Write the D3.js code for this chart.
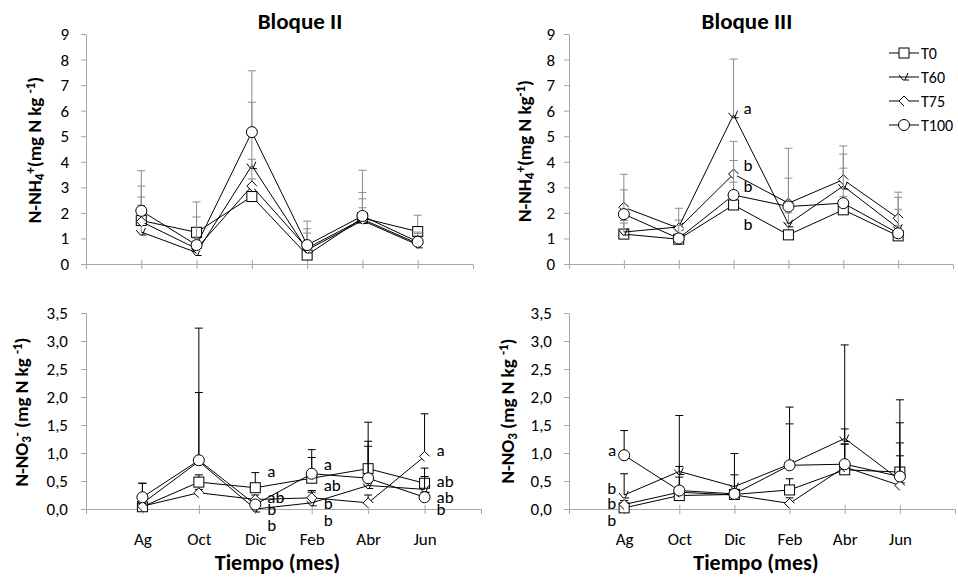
<!DOCTYPE html>
<html lang="es">
<head>
  <meta charset="UTF-8">
  <title>N-NH4+ y N-NO3- por bloque</title>
  <style>
    body { margin: 0; background: #fff; }
    svg { display: block; font-family: Carlito, Calibri, Lato, sans-serif; }
    .axis path, .axis line { stroke: #a6a6a6; }
    .axis text { fill: #000; font-size: 17px; font-family: Carlito, Calibri, Lato, sans-serif; }
  </style>
</head>
<body>
  <svg id="chart" width="958" height="578"></svg>

  <script src="https://cdnjs.cloudflare.com/ajax/libs/d3/7.8.5/d3.min.js"></script>
  <script>
    const months = ["Ag", "Oct", "Dic", "Feb", "Abr", "Jun"];
    const seriesNames = ["T0", "T60", "T75", "T100"];

    // rows follow seriesNames order: T0, T60, T75, T100
    // Bloque II, N-NH4+
    const nh4B2Mean = [
      [1.70, 1.24, 2.64, 0.35, 1.80, 1.27],
      [1.25, 0.45, 3.85, 0.55, 1.70, 0.75],
      [1.66, 0.60, 3.05, 0.62, 1.75, 0.80],
      [2.08, 0.74, 5.16, 0.74, 1.88, 0.87]
    ];
    const nh4B2Upper = [
      [3.05, 2.43, 3.33, 0.90, 2.20, 1.91],
      [2.30, 0.90, 6.33, 1.21, 2.55, 1.10],
      [2.62, 1.00, 4.10, 1.38, 2.80, 1.20],
      [3.65, 1.84, 7.56, 1.68, 3.67, 1.25]
    ];

    // Bloque III, N-NH4+
    const nh4B3Mean = [
      [1.17, 0.97, 2.31, 1.14, 2.12, 1.10],
      [1.25, 1.45, 5.84, 1.57, 3.05, 1.40],
      [2.22, 1.40, 3.52, 2.38, 3.30, 1.79],
      [1.95, 1.00, 2.70, 2.25, 2.38, 1.20]
    ];
    const nh4B3Upper = [
      [1.60, 1.30, 3.20, 1.60, 2.65, 1.50],
      [1.70, 1.72, 8.02, 2.00, 4.30, 2.14],
      [3.51, 2.18, 4.80, 4.53, 4.62, 2.81],
      [2.90, 1.50, 4.05, 3.36, 3.75, 2.61]
    ];

    // Bloque II, N-NO3-
    const no3B2Mean = [
      [0.04, 0.48, 0.38, 0.55, 0.72, 0.46],
      [0.10, 0.85, 0.00, 0.11, 0.42, 0.35],
      [0.05, 0.29, 0.17, 0.20, 0.11, 0.94],
      [0.21, 0.87, 0.08, 0.63, 0.55, 0.21]
    ];
    const no3B2Upper = [
      [0.46, 0.61, 0.65, 0.92, 1.21, 0.73],
      [0.15, 2.08, 0.05, 0.33, 1.12, 0.58],
      [0.10, 0.35, 0.25, 0.30, 0.25, 1.70],
      [0.46, 3.23, 0.15, 1.06, 1.55, 0.30]
    ];

    // Bloque III, N-NO3
    const no3B3Mean = [
      [0.02, 0.24, 0.26, 0.34, 0.70, 0.66],
      [0.25, 0.67, 0.40, 0.80, 1.26, 0.52],
      [0.08, 0.30, 0.25, 0.10, 0.75, 0.42],
      [0.96, 0.33, 0.27, 0.78, 0.80, 0.58]
    ];
    const no3B3Upper = [
      [0.10, 0.57, 0.61, 0.54, 1.16, 1.18],
      [0.63, 1.67, 0.99, 1.52, 2.93, 0.95],
      [0.15, 0.40, 0.35, 0.20, 1.16, 1.54],
      [1.40, 0.76, 0.35, 1.82, 1.43, 1.95]
    ];

    // significance letters: month, level (data units), letter
    const lettersNh4B3 = [
      ["Dic", 6.10, "a"], ["Dic", 3.87, "b"], ["Dic", 3.05, "b"], ["Dic", 1.57, "b"]
    ];
    const lettersNo3B2 = [
      ["Dic", 0.67, "a"], ["Dic", 0.22, "ab"], ["Dic", 0.00, "b"], ["Dic", -0.28, "b"],
      ["Feb", 0.81, "a"], ["Feb", 0.42, "ab"], ["Feb", 0.11, "b"], ["Feb", -0.19, "b"],
      ["Jun", 1.06, "a"], ["Jun", 0.50, "ab"], ["Jun", 0.22, "ab"], ["Jun", 0.00, "b"]
    ];
    const lettersNo3B3 = [
      ["Ag", 1.06, "a"], ["Ag", 0.38, "b"], ["Ag", 0.11, "b"], ["Ag", -0.19, "b"]
    ];

    const svg = d3.select("#chart");
    const FONT = "Carlito, Calibri, Lato, sans-serif";

    const commaFmt = d => d3.format(".1f")(d).replace(".", ",");

    // marker drawing per series
    function drawMarker(g, idx, cx, cy) {
      if (idx === 0) {
        g.append("rect").attr("x", cx - 5).attr("y", cy - 5)
          .attr("width", 10).attr("height", 10)
          .attr("fill", "#fff").attr("stroke", "#000");
      } else if (idx === 1) {
        g.append("path")
          .attr("d", `M${cx - 5},${cy - 2} L${cx - 1},${cy + 3} L${cx + 5},${cy + 3} M${cx + 1},${cy + 3} L${cx + 4},${cy - 4}`)
          .attr("fill", "none").attr("stroke", "#000");
      } else if (idx === 2) {
        g.append("path")
          .attr("d", `M${cx + 5},${cy} L${cx},${cy - 5} L${cx - 5},${cy} L${cx},${cy + 5}`)
          .attr("fill", "#fff").attr("stroke", "#000");
      } else {
        g.append("circle").attr("cx", cx).attr("cy", cy).attr("r", 5.5)
          .attr("fill", "#fff").attr("stroke", "#000");
      }
    }

    function drawPanel(p) {
      const x = d3.scalePoint().domain(months).range([p.x0, p.x1]).padding(1);
      const y = d3.scaleLinear().domain([0, p.max]).range([p.yBot, p.yTop]);
      const g = svg.append("g");

      // y axis
      g.append("g").attr("class", "axis")
        .attr("transform", `translate(${p.x0},0)`)
        .call(d3.axisLeft(y)
          .tickValues(d3.range(0, p.max + 1e-6, p.step))
          .tickFormat(p.fmt)
          .tickSizeInner(5).tickSizeOuter(0).tickPadding(p.yPad));

      // x axis
      const xa = g.append("g").attr("class", "axis")
        .attr("transform", `translate(0,${y(0)})`)
        .call(d3.axisBottom(x)
          .tickSizeInner(5).tickSizeOuter(5).tickPadding(19)
          .tickFormat(p.showMonths ? (d => d) : () => ""));
      xa.selectAll(".tick line").attr("y1", -4);

      // error bars, lines and markers
      p.mean.forEach((vals, si) => {
        const sg = g.append("g");
        vals.forEach((v, mi) => {
          const cx = x(months[mi]);
          const top = y(p.upper[si][mi]);
          sg.append("line").attr("x1", cx).attr("x2", cx)
            .attr("y1", y(v)).attr("y2", top)
            .attr("stroke", p.errColor).attr("stroke-width", 1);
          sg.append("line").attr("x1", cx - 4).attr("x2", cx + 4)
            .attr("y1", top).attr("y2", top)
            .attr("stroke", p.errColor).attr("stroke-width", 1);
        });
        sg.append("path")
          .datum(vals)
          .attr("fill", "none").attr("stroke", "#000").attr("stroke-width", 1)
          .attr("d", d3.line().x((d, i) => x(months[i])).y(d => y(d)));
        vals.forEach((v, mi) => drawMarker(sg, si, x(months[mi]), y(v)));
      });

      // significance letters
      (p.letters || []).forEach(([m, lv, t]) => {
        g.append("text")
          .attr("x", x(m) + p.letterDx).attr("y", y(lv))
          .attr("dy", "0.35em")
          .attr("text-anchor", p.letterDx < 0 ? "end" : "start")
          .attr("font-size", 17).attr("font-family", FONT)
          .text(t);
      });

      // title
      if (p.title) {
        g.append("text")
          .attr("x", p.titleX).attr("y", 29)
          .attr("text-anchor", "middle")
          .attr("font-size", 23).attr("font-weight", "bold")
          .attr("font-family", FONT)
          .text(p.title);
      }

      // y label with sub/superscripts
      const yl = g.append("text")
        .attr("transform", `translate(${p.ylX},${p.ylY}) rotate(-90)`)
        .attr("text-anchor", "middle")
        .attr("font-size", 19).attr("font-weight", "bold")
        .attr("font-family", FONT);
      p.ylabel.forEach(([t, kind]) => {
        const ts = yl.append("tspan").text(t);
        if (kind === "sub") ts.attr("baseline-shift", "-25%").attr("font-size", 13);
        if (kind === "sup") ts.attr("baseline-shift", "45%").attr("font-size", 13);
      });

      // x title
      if (p.showMonths) {
        g.append("text")
          .attr("x", (p.x0 + p.x1) / 2 - 6).attr("y", 570)
          .attr("text-anchor", "middle")
          .attr("font-size", 22).attr("font-weight", "bold")
          .attr("font-family", FONT)
          .text("Tiempo (mes)");
      }
      return { x, y };
    }

    drawPanel({
      x0: 86, x1: 473, yTop: 34, yBot: 264, max: 9, step: 1, fmt: d3.format("d"), yPad: 12,
      mean: nh4B2Mean, upper: nh4B2Upper, errColor: "#8c8c8c",
      title: "Bloque II", titleX: 300,
      ylX: 41, ylY: 150,
      ylabel: [["N-NH"], ["4", "sub"], ["+", "sup"], ["(mg N kg "], ["-1", "sup"], [")"]]
    });

    drawPanel({
      x0: 569, x1: 953, yTop: 34, yBot: 264, max: 9, step: 1, fmt: d3.format("d"), yPad: 9,
      mean: nh4B3Mean, upper: nh4B3Upper, errColor: "#8c8c8c",
      title: "Bloque III", titleX: 747,
      ylX: 531, ylY: 151,
      letters: lettersNh4B3, letterDx: 10,
      ylabel: [["N-NH"], ["4", "sub"], ["+", "sup"], ["(mg N kg"], ["-1", "sup"], [")"]]
    });

    drawPanel({
      x0: 86, x1: 481, yTop: 313, yBot: 509, max: 3.5, step: 0.5, fmt: commaFmt, yPad: 13,
      mean: no3B2Mean, upper: no3B2Upper, errColor: "#000",
      showMonths: true,
      ylX: 28, ylY: 412,
      letters: lettersNo3B2, letterDx: 12,
      ylabel: [["N-NO"], ["3", "sub"], ["-", "sup"], [" (mg N kg "], ["-1", "sup"], [")"]]
    });

    drawPanel({
      x0: 569, x1: 955, yTop: 313, yBot: 509, max: 3.5, step: 0.5, fmt: commaFmt, yPad: 12,
      mean: no3B3Mean, upper: no3B3Upper, errColor: "#000",
      showMonths: true,
      ylX: 514, ylY: 411,
      letters: lettersNo3B3, letterDx: -8,
      ylabel: [["N-NO"], ["3", "sub"], [" (mg N kg "], ["-1", "sup"], [")"]]
    });

    // legend
    const legendRows = d3.scalePoint().domain(seriesNames).range([53, 125]);
    const lg = svg.append("g");
    seriesNames.forEach((s, i) => {
      const ly = legendRows(s);
      lg.append("line").attr("x1", 889).attr("x2", 919)
        .attr("y1", ly).attr("y2", ly).attr("stroke", "#000");
      drawMarker(lg, i, 904, ly);
      lg.append("text").attr("x", 921).attr("y", ly).attr("dy", "0.35em")
        .attr("font-size", 16).attr("font-family", FONT).text(s);
    });
  </script>
</body>
</html>
